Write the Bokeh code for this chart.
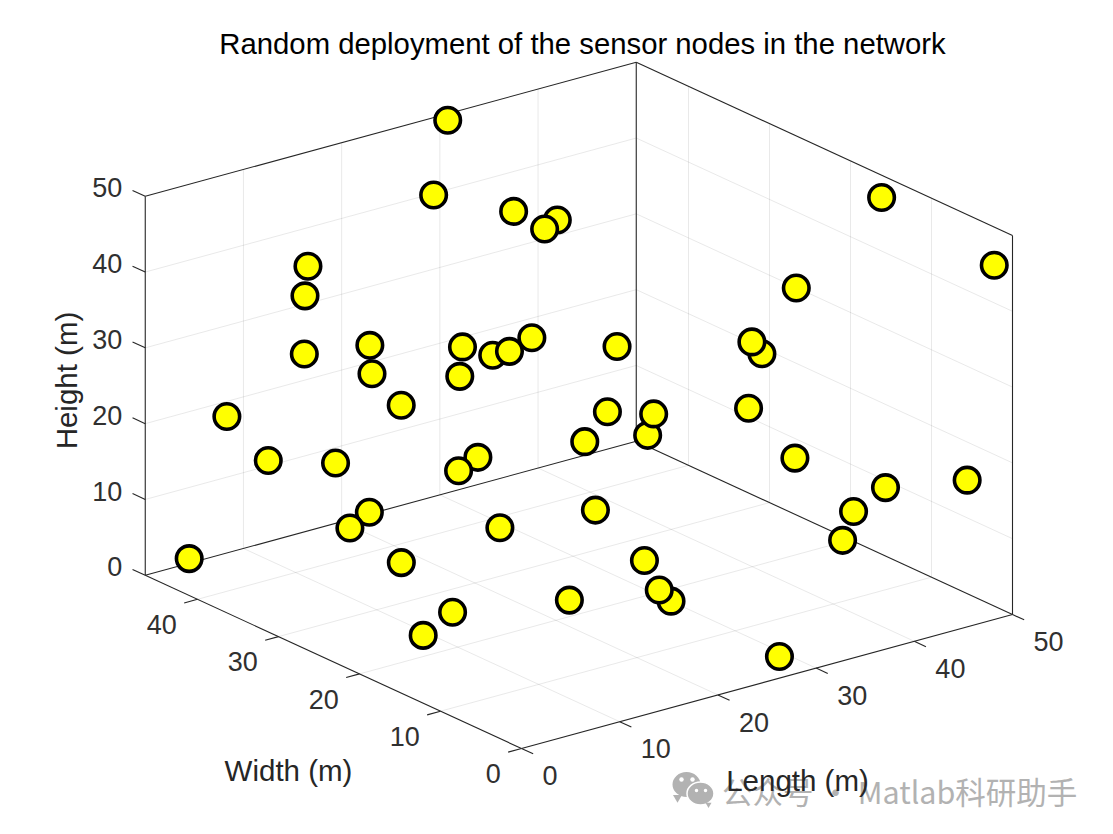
import numpy as np
from bokeh.plotting import figure
from bokeh.embed import file_html
from bokeh.resources import INLINE
from bokeh.core.properties import value

title_text = "Random deployment of the sensor nodes in the network"
length_label = "Length (m)"
width_label = "Width (m)"
height_label = "Height (m)"
watermark = "公众号 · Matlab科研助手"

length_ticks = [0, 10, 20, 30, 40, 50]
width_ticks = [0, 10, 20, 30, 40]
height_ticks = [0, 10, 20, 30, 40, 50]
grid_ticks = [10, 20, 30, 40]
length_max = 50
width_max = 46.45
height_max = 50

length_m = [30.1, 20.5, 26.5, 26.0, 27.1, 46.9, 48.8, 39.2, 11.0, 8.8,
            7.0, 14.5, 14.8, 22.2, 21.1, 31.3, 28.8, 25.8, 35.3, 40.4,
            39.3, 38.3, 3.9, 18.6, 33.0, 38.5, 38.7, 31.6, 7.7, 14.8,
            28.8, 23.7, 41.7, 48.6, 43.5, 43.3, 40.7, 31.2, 17.5, 10.9,
            23.7, 11.6, 2.7, 30.5, 27.6, 26.4, 20.3, 12.2, 5.0, 28.0]
width_m = [45.6, 35.7, 33.1, 27.1, 30.0, 12.4, 0.8, 13.6, 39.7, 37.4,
           35.3, 36.3, 36.4, 34.2, 33.2, 41.5, 36.4, 30.0, 31.0, 19.3,
           19.2, 18.4, 41.1, 37.4, 29.4, 31.1, 30.6, 30.5, 40.6, 40.9,
           40.3, 36.5, 16.8, 3.9, 7.8, 11.5, 9.7, 28.7, 40.0, 34.4,
           31.4, 28.9, 44.3, 21.8, 15.0, 15.0, 18.7, 23.3, 18.2, 2.1]
height_m = [49.8, 48.2, 45.2, 47.2, 44.2, 50.0, 46.1, 40.2, 40.2, 38.2,
            32.2, 30.2, 26.3, 28.3, 25.3, 20.4, 24.3, 30.3, 25.3, 28.3,
            30.3, 22.3, 22.2, 20.3, 18.3, 12.4, 15.4, 14.3, 15.3, 12.3,
            8.4, 10.3, 15.3, 16.3, 15.2, 10.3, 8.3, 6.3, 5.3, 8.3,
            5.3, 6.2, 2.3, 3.3, 2.3, 4.2, 3.2, 2.2, 4.2, 1.2]


def proj(L, W, H):
    L, W, H = np.asarray(L, float), np.asarray(W, float), np.asarray(H, float)
    sx = 521 + 9.82 * L - 8.1 * W
    sy = 748 - 2.68 * L - 3.73 * W - 7.58 * H
    return sx, sy


def seg(a, b):
    xs, ys = proj([a[0], b[0]], [a[1], b[1]], [a[2], b[2]])
    return list(xs), list(ys)


p = figure(width=1097, height=818, x_range=(0, 1097), y_range=(818, 0),
           output_backend="svg", toolbar_location=None, min_border=0,
           outline_line_color=None, background_fill_color="white")
p.axis.visible = False
p.grid.visible = False

LM, WM, HM = length_max, width_max, height_max
gx, gy = [], []
for t in grid_ticks:
    for a, b in [((t, 0, 0), (t, WM, 0)), ((0, t, 0), (LM, t, 0)),
                 ((t, WM, 0), (t, WM, HM)), ((0, WM, t), (LM, WM, t)),
                 ((LM, t, 0), (LM, t, HM)), ((LM, 0, t), (LM, WM, t))]:
        x, y = seg(a, b)
        gx.append(x)
        gy.append(y)
p.multi_line(gx, gy, line_color="#262626", line_alpha=0.13, line_width=0.8)

bx, by = [], []
for a, b in [((0, 0, 0), (LM, 0, 0)), ((0, 0, 0), (0, WM, 0)),
             ((LM, 0, 0), (LM, WM, 0)), ((0, WM, 0), (LM, WM, 0)),
             ((LM, WM, 0), (LM, WM, HM)), ((0, WM, 0), (0, WM, HM)),
             ((LM, 0, 0), (LM, 0, HM)), ((0, WM, HM), (LM, WM, HM)),
             ((LM, WM, HM), (LM, 0, HM))]:
    x, y = seg(a, b)
    bx.append(x)
    by.append(y)
for t in length_ticks:
    x, y = seg((t, 0, 0), (t, -1.44, 0))
    bx.append(x)
    by.append(y)
for t in width_ticks:
    x, y = seg((0, t, 0), (-1.36, t, 0))
    bx.append(x)
    by.append(y)
for t in height_ticks:
    x, y = seg((0, WM, t), (0, WM + 1.57, t))
    bx.append(x)
    by.append(y)
p.multi_line(bx, by, line_color="#262626", line_width=1.1)

sx, sy = proj(length_m, width_m, height_m)
p.scatter(sx, sy, size=25.5, marker="circle", fill_color="#ffff00",
          line_color="black", line_width=3.6)

FONT = value("Liberation Sans")
TICK = "#303030"

n = len(length_ticks)
lx, ly = proj(length_ticks, [-2.6] * n, [-2.3] * n)
p.text(lx, ly, text=[str(t) for t in length_ticks], text_font=FONT, text_font_size="27px",
       text_color=TICK, text_align="left", text_baseline="middle")
n = len(width_ticks)
wx, wy = proj([-2.1] * n, width_ticks, [-2.6] * n)
p.text(wx, wy, text=[str(t) for t in width_ticks], text_font=FONT, text_font_size="27px",
       text_color=TICK, text_align="right", text_baseline="middle")
n = len(height_ticks)
hx, hy = proj([0] * n, [WM + 2.84] * n, np.array(height_ticks) - 0.3)
p.text(hx, hy, text=[str(t) for t in height_ticks], text_font=FONT, text_font_size="27px",
       text_color=TICK, text_align="right", text_baseline="middle")

# watermark
GRAY = "#b2b2b2"
p.ellipse([686], [784], width=28, height=25, fill_color=GRAY, line_color=None)
p.scatter([677], [797], size=9, marker="inverted_triangle", fill_color=GRAY, line_color=None)
p.ellipse([681, 692], [779, 779], width=4.5, height=4.5, fill_color="white", line_color=None)
p.ellipse([700], [793], width=27, height=23, fill_color=GRAY, line_color="white", line_width=1.5)
p.scatter([708], [804], size=6, marker="inverted_triangle", fill_color=GRAY, line_color=None)
p.ellipse([696, 705], [790, 790], width=3.5, height=3.5, fill_color="white", line_color=None)
p.text([721.5], [790], text=[watermark], text_font=value("Noto Sans CJK SC"), text_font_size="30.5px",
       text_color=GRAY, text_align="left", text_baseline="middle")

p.text([582], [43], text=[title_text], text_font=FONT, text_font_size="29.3px",
       text_color="black", text_align="center", text_baseline="middle")
p.text([797], [780], text=[length_label], text_font=FONT, text_font_size="29.5px",
       text_color="#262626", text_align="center", text_baseline="middle")
p.text([288], [770], text=[width_label], text_font=FONT, text_font_size="29.5px",
       text_color="#262626", text_align="center", text_baseline="middle")
p.text([66], [380], text=[height_label], text_font=FONT, text_font_size="29.5px",
       text_color="#262626", text_align="center", text_baseline="middle", angle=[np.pi / 2])

open("out.html", "w").write(file_html(p, INLINE))
